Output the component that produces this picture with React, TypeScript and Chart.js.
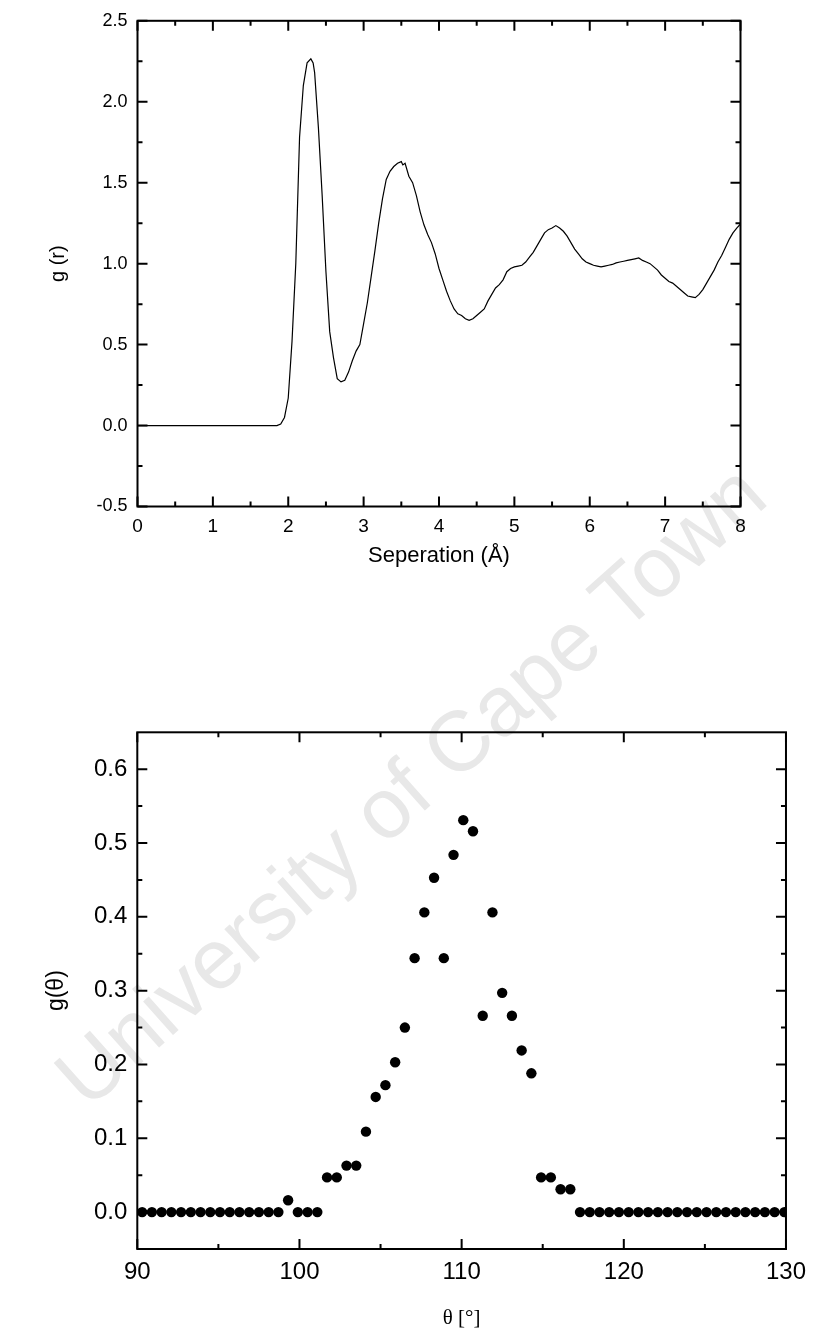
import React, { useEffect, useRef } from "react";
import { Chart, registerables } from "chart.js";

Chart.register(...registerables);

// ---------- Top chart: radial distribution g(r) ----------
const rValues = [
  0, 0.5, 1.0, 1.5, 1.85, 1.9, 1.95, 2.0, 2.05, 2.1, 2.15, 2.2, 2.25, 2.3, 2.33, 2.35, 2.4, 2.45, 2.5,
  2.55, 2.6, 2.65, 2.7, 2.75, 2.8, 2.85, 2.9, 2.95, 3.0, 3.05, 3.1, 3.15, 3.2, 3.25, 3.3, 3.35, 3.4,
  3.45, 3.5, 3.52, 3.55, 3.6, 3.65, 3.7, 3.75, 3.8, 3.85, 3.9, 3.95, 4.0, 4.05, 4.1, 4.15, 4.2, 4.25,
  4.3, 4.35, 4.4, 4.45, 4.5, 4.55, 4.6, 4.65, 4.7, 4.75, 4.8, 4.85, 4.9, 4.95, 5.0, 5.05, 5.1, 5.15,
  5.2, 5.25, 5.3, 5.35, 5.4, 5.45, 5.5, 5.55, 5.6, 5.65, 5.7, 5.75, 5.8, 5.85, 5.9, 5.95, 6.0, 6.05,
  6.1, 6.15, 6.2, 6.25, 6.3, 6.35, 6.4, 6.45, 6.5, 6.55, 6.6, 6.65, 6.7, 6.75, 6.8, 6.85, 6.9, 6.95,
  7.0, 7.05, 7.1, 7.15, 7.2, 7.25, 7.3, 7.35, 7.4, 7.45, 7.5, 7.55, 7.6, 7.65, 7.7, 7.75, 7.8, 7.85,
  7.9, 7.95, 8.0,
];
const gRValues = [
  0, 0, 0, 0, 0, 0.01, 0.05, 0.17, 0.52, 1.0, 1.78, 2.1, 2.24, 2.265, 2.24, 2.18, 1.84, 1.42, 0.95,
  0.58, 0.42, 0.29, 0.27, 0.28, 0.33, 0.4, 0.46, 0.5, 0.63, 0.76, 0.92, 1.08, 1.25, 1.4, 1.52, 1.57, 1.6,
  1.62, 1.63, 1.61, 1.62, 1.54, 1.5, 1.42, 1.32, 1.24, 1.18, 1.13, 1.06, 0.97, 0.9, 0.83, 0.77, 0.72, 0.69,
  0.68, 0.66, 0.65, 0.66, 0.68, 0.7, 0.72, 0.77, 0.81, 0.85, 0.87, 0.9, 0.95, 0.97, 0.98, 0.985, 0.99, 1.01,
  1.04, 1.07, 1.11, 1.15, 1.19, 1.21, 1.22, 1.235, 1.22, 1.2, 1.17, 1.13, 1.09, 1.06, 1.03, 1.01, 1.0, 0.99,
  0.985, 0.98, 0.985, 0.99, 0.995, 1.005, 1.01, 1.015, 1.02, 1.025, 1.03, 1.035, 1.02, 1.01, 1.0, 0.98, 0.96, 0.93,
  0.91, 0.89, 0.88, 0.86, 0.84, 0.82, 0.8, 0.795, 0.79, 0.81, 0.84, 0.88, 0.92, 0.96, 1.01, 1.05, 1.1, 1.15,
  1.19, 1.22, 1.245,
];
const rMajorTicks = [0, 1, 2, 3, 4, 5, 6, 7, 8];
const rMinorTicks = [0.5, 1.5, 2.5, 3.5, 4.5, 5.5, 6.5, 7.5];
const gRMajorTicks = [-0.5, 0.0, 0.5, 1.0, 1.5, 2.0, 2.5];
const gRMinorTicks = [-0.25, 0.25, 0.75, 1.25, 1.75, 2.25];

// ---------- Bottom chart: angular distribution g(theta) ----------
const thetaValues = [
  90.3, 90.9, 91.5, 92.1, 92.7, 93.3, 93.9, 94.5, 95.1, 95.7, 96.3, 96.9, 97.5, 98.1, 98.7, 99.3,
  99.9, 100.5, 101.1, 101.7, 102.3, 102.9, 103.5, 104.1, 104.7, 105.3, 105.9, 106.5, 107.1, 107.7,
  108.3, 108.9, 109.5, 110.1, 110.7, 111.3, 111.9, 112.5, 113.1, 113.7, 114.3, 114.9, 115.5, 116.1,
  116.7, 117.3, 117.9, 118.5, 119.1, 119.7, 120.3, 120.9, 121.5, 122.1, 122.7, 123.3, 123.9, 124.5,
  125.1, 125.7, 126.3, 126.9, 127.5, 128.1, 128.7, 129.3, 129.9,
];
const gThetaValues = [
  0, 0, 0, 0, 0, 0, 0, 0, 0, 0, 0, 0, 0, 0, 0, 0.016,
  0, 0, 0, 0.047, 0.047, 0.063, 0.063, 0.109, 0.156, 0.172, 0.203, 0.25, 0.344, 0.406,
  0.453, 0.344, 0.484, 0.531, 0.516, 0.266, 0.406, 0.297, 0.266, 0.219, 0.188, 0.047, 0.047, 0.031,
  0.031, 0, 0, 0, 0, 0, 0, 0, 0, 0, 0, 0, 0, 0,
  0, 0, 0, 0, 0, 0, 0, 0, 0,
];
const thetaMajorTicks = [90, 100, 110, 120, 130];
const thetaMinorTicks = [95, 105, 115, 125];
const gThetaMajorTicks = [0.0, 0.1, 0.2, 0.3, 0.4, 0.5, 0.6];
const gThetaMinorTicks = [0.05, 0.15, 0.25, 0.35, 0.45, 0.55];

const SANS = "'Liberation Sans', Arial, sans-serif";
const SERIF = "'Liberation Serif', 'Times New Roman', serif";

const frameTicksPlugin = {
  id: "frameTicks",
  afterDraw(chart: any, _args: any, opts: any) {
    const { ctx, chartArea: a, scales } = chart;
    const xs = scales.x;
    const ys = scales.y;
    const major = opts.major ?? 10;
    const minor = opts.minor ?? 5;
    ctx.save();
    ctx.strokeStyle = "#000";
    ctx.lineWidth = opts.lineWidth ?? 2;
    ctx.lineCap = "butt";
    ctx.strokeRect(a.left, a.top, a.right - a.left, a.bottom - a.top);
    ctx.beginPath();
    const xt = (vals: number[], len: number) => {
      for (const v of vals) {
        const px = xs.getPixelForValue(v);
        ctx.moveTo(px, a.bottom);
        ctx.lineTo(px, a.bottom - len);
        ctx.moveTo(px, a.top);
        ctx.lineTo(px, a.top + len);
      }
    };
    const yt = (vals: number[], len: number) => {
      for (const v of vals) {
        const py = ys.getPixelForValue(v);
        ctx.moveTo(a.left, py);
        ctx.lineTo(a.left + len, py);
        ctx.moveTo(a.right, py);
        ctx.lineTo(a.right - len, py);
      }
    };
    xt(opts.xMajor, major);
    xt(opts.xMinor, minor);
    yt(opts.yMajor, major);
    yt(opts.yMinor, minor);
    ctx.stroke();
    ctx.restore();
  },
};

function TopChart() {
  const ref = useRef<HTMLCanvasElement>(null);
  useEffect(() => {
    const chart = new Chart(ref.current as HTMLCanvasElement, {
      type: "line",
      data: {
        datasets: [
          {
            data: rValues.map((x, i) => ({ x, y: gRValues[i] })),
            borderColor: "#000",
            borderWidth: 1.2,
            pointRadius: 0,
            tension: 0,
            fill: false,
            clip: 0,
          },
        ],
      },
      options: {
        responsive: false,
        animation: false,
        events: [],
        layout: { padding: { left: 0, right: 74.5, top: 19, bottom: 0 } },
        plugins: {
          legend: { display: false },
          tooltip: { enabled: false },
          frameTicks: {
            xMajor: rMajorTicks,
            xMinor: rMinorTicks,
            yMajor: gRMajorTicks,
            yMinor: gRMinorTicks,
            major: 10,
            minor: 5,
            lineWidth: 2,
          },
        } as any,
        scales: {
          x: {
            type: "linear",
            min: 0,
            max: 8,
            grid: { display: false, drawTicks: false },
            border: { display: false },
            afterFit: (s: any) => {
              s.height = 83.5;
            },
            afterBuildTicks: (s: any) => {
              s.ticks = rMajorTicks.map((v) => ({ value: v }));
            },
            ticks: {
              color: "#000",
              padding: 9,
              maxRotation: 0,
              autoSkip: false,
              font: { family: SANS, size: 19 },
              callback: (v: any) => String(v),
            },
            title: {
              display: true,
              text: "Seperation (Å)",
              color: "#000",
              font: { family: SANS, size: 22 },
              padding: { top: 0, bottom: 21 },
            },
          },
          y: {
            type: "linear",
            min: -0.5,
            max: 2.5,
            grid: { display: false, drawTicks: false },
            border: { display: false },
            afterFit: (s: any) => {
              s.width = 137.5;
            },
            afterBuildTicks: (s: any) => {
              s.ticks = gRMajorTicks.map((v) => ({ value: v }));
            },
            ticks: {
              color: "#000",
              padding: 10,
              autoSkip: false,
              font: { family: SANS, size: 18 },
              callback: (v: any) => Number(v).toFixed(1),
            },
            title: {
              display: true,
              text: "g (r)",
              color: "#000",
              font: { family: SANS, size: 20 },
              padding: { top: 46, bottom: 0 },
            },
          },
        },
      },
      plugins: [frameTicksPlugin as any],
    });
    return () => chart.destroy();
  }, []);
  return (
    <canvas
      ref={ref}
      width={815}
      height={590}
      style={{ position: "absolute", left: 0, top: 0, width: 815, height: 590, zIndex: 1 }}
    />
  );
}

function BottomChart() {
  const ref = useRef<HTMLCanvasElement>(null);
  useEffect(() => {
    const chart = new Chart(ref.current as HTMLCanvasElement, {
      type: "scatter",
      data: {
        datasets: [
          {
            data: thetaValues.map((x, i) => ({ x, y: gThetaValues[i] })),
            backgroundColor: "#000",
            borderColor: "#000",
            borderWidth: 0,
            pointRadius: 5.2,
            pointStyle: "circle",
            clip: 0,
          },
        ],
      },
      options: {
        responsive: false,
        animation: false,
        events: [],
        layout: { padding: { left: 0, right: 27.3, top: 142.3, bottom: 0 } },
        plugins: {
          legend: { display: false },
          tooltip: { enabled: false },
          frameTicks: {
            xMajor: thetaMajorTicks,
            xMinor: thetaMinorTicks,
            yMajor: gThetaMajorTicks,
            yMinor: gThetaMinorTicks,
            major: 10,
            minor: 5,
            lineWidth: 2,
          },
        } as any,
        scales: {
          x: {
            type: "linear",
            min: 90,
            max: 130,
            grid: { display: false, drawTicks: false },
            border: { display: false },
            afterFit: (s: any) => {
              s.height = 91;
            },
            afterBuildTicks: (s: any) => {
              s.ticks = thetaMajorTicks.map((v) => ({ value: v }));
            },
            ticks: {
              color: "#000",
              padding: 9,
              maxRotation: 0,
              autoSkip: false,
              font: { family: SANS, size: 24 },
              callback: (v: any) => String(v),
            },
            title: {
              display: true,
              text: "θ [°]",
              color: "#000",
              font: { family: SERIF, size: 21 },
              padding: { top: 0, bottom: 9 },
            },
          },
          y: {
            type: "linear",
            min: -0.05,
            max: 0.65,
            grid: { display: false, drawTicks: false },
            border: { display: false },
            afterFit: (s: any) => {
              s.width = 137.3;
            },
            afterBuildTicks: (s: any) => {
              s.ticks = gThetaMajorTicks.map((v) => ({ value: v }));
            },
            ticks: {
              color: "#000",
              padding: 10,
              autoSkip: false,
              font: { family: SANS, size: 24 },
              callback: (v: any) => Number(v).toFixed(1),
            },
            title: {
              display: true,
              text: "g(θ)",
              color: "#000",
              font: { family: SANS, size: 23 },
              padding: { top: 43, bottom: 0 },
            },
          },
        },
      },
      plugins: [frameTicksPlugin as any],
    });
    return () => chart.destroy();
  }, []);
  return (
    <canvas
      ref={ref}
      width={815}
      height={750}
      style={{ position: "absolute", left: 0, top: 590, width: 815, height: 750, zIndex: 1 }}
    />
  );
}

export default function App() {
  return (
    <div
      style={{
        position: "absolute",
        left: 0,
        top: 0,
        width: 815,
        height: 1340,
        overflow: "hidden",
        background: "#fff",
      }}
    >
      <div
        style={{
          position: "absolute",
          left: 410,
          top: 785,
          transform: "translate(-50%, -50%) rotate(-41.7deg)",
          whiteSpace: "nowrap",
          fontFamily: SANS,
          fontSize: 85,
          color: "#e8e8e8",
          zIndex: 0,
          userSelect: "none",
        }}
      >
        University of Cape Town
      </div>
      <TopChart />
      <BottomChart />
    </div>
  );
}
